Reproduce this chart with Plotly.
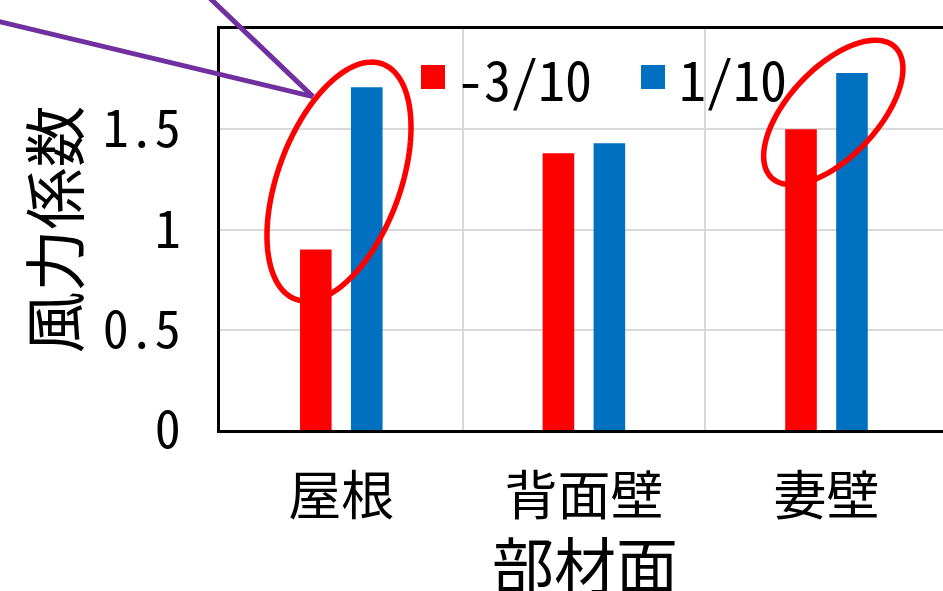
import math
import plotly.graph_objects as go

# ---- data -------------------------------------------------------------
categories = ["屋根", "背面壁", "妻壁"]
series_names = ["-3/10", "1/10"]
values_m3_10 = [0.90, 1.38, 1.50]
values_p1_10 = [1.71, 1.43, 1.78]
series_colors = ["#FF0000", "#0070C0"]
y_tickvals = [0, 0.5, 1, 1.5, 2]
y_ticktext = ["0", "0.5", "1", "1.5", "2"]
x_title = "部材面"
y_title = "風力係数"

# ---- layout geometry --------------------------------------------------
FONT = "Noto Sans Mono CJK JP, Noto Sans CJK JP, sans-serif"
W, H = 943, 591
ML, MR, MT, MB = 220, 0, 29, 161
PW, PH = W - ML - MR, H - MT - MB
CAT_PX = 242.6                      # pixel width of one category slot
X_RANGE = [-0.5, -0.5 + PW / CAT_PX]
Y_RANGE = [0, 2]


def data_to_px(x, y):
    px = ML + (x - X_RANGE[0]) / (X_RANGE[1] - X_RANGE[0]) * PW
    py = H - MB - (y - Y_RANGE[0]) / (Y_RANGE[1] - Y_RANGE[0]) * PH
    return px, py


def px_to_paper(px, py):
    return (px - ML) / PW, (H - MB - py) / PH


def ellipse_path(cx, cy, a, b, angle_deg, n=120):
    """Rotated ellipse around a data point; a, b are semi-axes in pixels."""
    cpx, cpy = data_to_px(cx, cy)
    th = math.radians(angle_deg)
    pts = []
    for i in range(n):
        t = 2 * math.pi * i / n
        ex = a * math.cos(t) * math.cos(th) - b * math.sin(t) * math.sin(th)
        ey = a * math.cos(t) * math.sin(th) + b * math.sin(t) * math.cos(th)
        pts.append(px_to_paper(cpx + ex, cpy - ey))
    return "M " + " L ".join(f"{x:.5f},{y:.5f}" for x, y in pts) + " Z"


fig = go.Figure()
for name, vals, col in zip(series_names, [values_m3_10, values_p1_10], series_colors):
    fig.add_trace(go.Bar(x=categories, y=vals, name=name,
                         marker=dict(color=col, line=dict(width=0)),
                         showlegend=False))

shapes = []
# highlight ellipses
shapes.append(dict(type="path", xref="paper", yref="paper",
                   path=ellipse_path(-0.0095, 1.239, 125.4, 61.2, 69.7),
                   line=dict(color="#FF0000", width=5.5)))
shapes.append(dict(type="path", xref="paper", yref="paper",
                   path=ellipse_path(2.028, 1.584, 89.9, 44.5, 46.7),
                   line=dict(color="#FF0000", width=5.5)))

# purple callout lines converging on the first ellipse
tip_px = data_to_px(-0.117, 1.663)
for dx, dy in [(-353, -84.4), (-122, -116.5)]:
    x0, y0 = px_to_paper(tip_px[0] + dx, tip_px[1] + dy)
    x1, y1 = px_to_paper(*tip_px)
    shapes.append(dict(type="line", xref="paper", yref="paper",
                       x0=x0, y0=y0, x1=x1, y1=y1,
                       line=dict(color="#7030A0", width=5)))

# legend drawn inside the plot area
annotations = []
legend_items = [(421, 455), (641, 677)]
for (sq_x, tx), name, col in zip(legend_items, series_names, series_colors):
    x0, y0 = px_to_paper(sq_x, 89)
    x1, y1 = px_to_paper(sq_x + 24, 65)
    shapes.append(dict(type="rect", xref="paper", yref="paper",
                       x0=x0, y0=y0, x1=x1, y1=y1,
                       fillcolor=col, line=dict(width=0)))
    ax, ay = px_to_paper(tx, 77)
    annotations.append(dict(xref="paper", yref="paper", x=ax, y=ay,
                            xanchor="left", yanchor="middle", showarrow=False,
                            text=name, font=dict(family=FONT, size=54, color="black")))

# axis titles
tx, ty = px_to_paper(ML + PW / 2 + 3, 563)
annotations.append(dict(xref="paper", yref="paper", x=tx, y=ty,
                        xanchor="center", yanchor="middle", showarrow=False,
                        text=x_title, font=dict(family=FONT, size=62, color="black")))
tx, ty = px_to_paper(51, MT + PH / 2)
annotations.append(dict(xref="paper", yref="paper", x=tx, y=ty,
                        xanchor="center", yanchor="middle", showarrow=False,
                        textangle=-90,
                        text=y_title, font=dict(family=FONT, size=62, color="black")))

fig.update_layout(
    width=W, height=H,
    margin=dict(l=ML, r=MR, t=MT, b=MB, autoexpand=False),
    paper_bgcolor="white", plot_bgcolor="white",
    barmode="group", bargap=0.58, bargroupgap=0.38,
    font=dict(family=FONT, color="black"),
    shapes=shapes, annotations=annotations,
    showlegend=False,
)
fig.update_xaxes(
    range=X_RANGE, type="category", tickson="boundaries",
    showgrid=True, gridcolor="#D9D9D9", gridwidth=2,
    showline=True, linecolor="black", linewidth=2.5, mirror=True,
    ticks="", ticklabelstandoff=19,
    tickfont=dict(family=FONT, size=53, color="black"),
    zeroline=False, automargin=False,
)
fig.update_yaxes(
    range=Y_RANGE, tickmode="array", tickvals=y_tickvals, ticktext=y_ticktext,
    showgrid=True, gridcolor="#D9D9D9", gridwidth=2,
    showline=True, linecolor="black", linewidth=2.5, mirror=False,
    ticks="", ticklabelstandoff=26,
    tickfont=dict(family=FONT, size=52, color="black"),
    zeroline=False, automargin=False,
)

fig.write_html("out.html")
